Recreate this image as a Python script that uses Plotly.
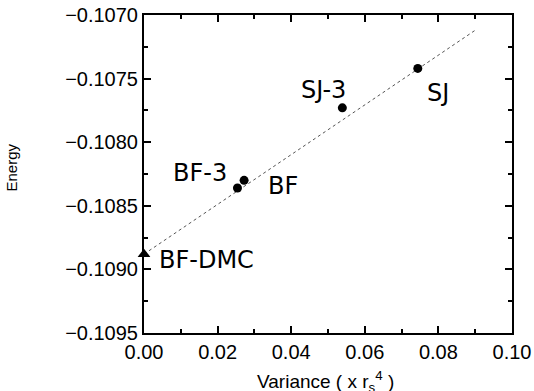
import plotly.graph_objects as go

# Data
names = ["SJ", "SJ-3", "BF", "BF-3"]
variance = [0.0744, 0.0539, 0.0272, 0.0254]
energy = [-0.10742, -0.10773, -0.10830, -0.10836]

dmc_name = "BF-DMC"
dmc_variance = [0.0]
dmc_energy = [-0.10888]

fit_x = [0.0, 0.090]
fit_y = [-0.10888, -0.10712]

# label offsets in pixels (style)
label_shift = {
    "SJ": (20, -25),
    "SJ-3": (-19, 18),
    "BF": (39, -6),
    "BF-3": (-37, 15),
    "BF-DMC": (62, -6),
}

fig = go.Figure()
fig.add_trace(go.Scatter(x=fit_x, y=fit_y, mode="lines",
                         line=dict(color="#555555", width=1, dash="dot"),
                         hoverinfo="skip", showlegend=False))
fig.add_trace(go.Scatter(x=variance, y=energy, mode="markers",
                         marker=dict(color="black", size=9, symbol="circle"),
                         showlegend=False))
fig.add_trace(go.Scatter(x=dmc_variance, y=dmc_energy, mode="markers",
                         marker=dict(color="black", size=11, symbol="triangle-up"),
                         showlegend=False, cliponaxis=False))

lab_font = dict(family="DejaVu Sans", size=24, color="black")
for n, xv, yv in zip(names, variance, energy):
    dx, dy = label_shift[n]
    fig.add_annotation(x=xv, y=yv, text=n, showarrow=False, xshift=dx, yshift=dy,
                       font=lab_font, xanchor="center", yanchor="middle")
dx, dy = label_shift[dmc_name]
fig.add_annotation(x=dmc_variance[0], y=dmc_energy[0], text=dmc_name, showarrow=False,
                   xshift=dx, yshift=dy, font=lab_font, xanchor="center", yanchor="middle")

fig.add_annotation(xref="paper", yref="paper", x=0.492, y=-0.151,
                   text="Variance ( x r<sub>s</sub><sup>4</sup> )", showarrow=False,
                   font=dict(family="Liberation Sans", size=19, color="black"),
                   xanchor="center", yanchor="middle")
fig.add_annotation(xref="paper", yref="paper", x=-0.359, y=0.52,
                   text="Energy", showarrow=False, textangle=-90,
                   font=dict(family="Liberation Sans", size=15, color="black"),
                   xanchor="center", yanchor="middle")

axis_common = dict(showline=True, linecolor="black", linewidth=2, mirror="ticks",
                   ticks="inside", ticklen=7, tickwidth=1.5, tickcolor="black",
                   showgrid=False, zeroline=False, automargin=False,
                   ticklabeloverflow="allow",
                   tickfont=dict(family="Liberation Sans", size=20, color="black"))

fig.update_xaxes(range=[0, 0.1], dtick=0.02, tick0=0, tickformat=".2f",
                 minor=dict(ticks="inside", ticklen=4, dtick=0.01, tickcolor="black", tickwidth=1.5),
                 **axis_common)
fig.update_yaxes(range=[-0.1095, -0.1070], dtick=0.0005, tick0=-0.1095, tickformat=".4f",
                 minor=dict(ticks="inside", ticklen=4, dtick=0.00025, tickcolor="black", tickwidth=1.5),
                 **axis_common)

fig.update_layout(width=534, height=391, margin=dict(l=144, r=22, t=15, b=58),
                  plot_bgcolor="white", paper_bgcolor="white")

# remove the default page margin so the figure fills the window exactly
fig.write_html("out.html", config={"displayModeBar": False},
               post_script="document.body.style.margin='0';document.body.style.overflow='hidden';")
